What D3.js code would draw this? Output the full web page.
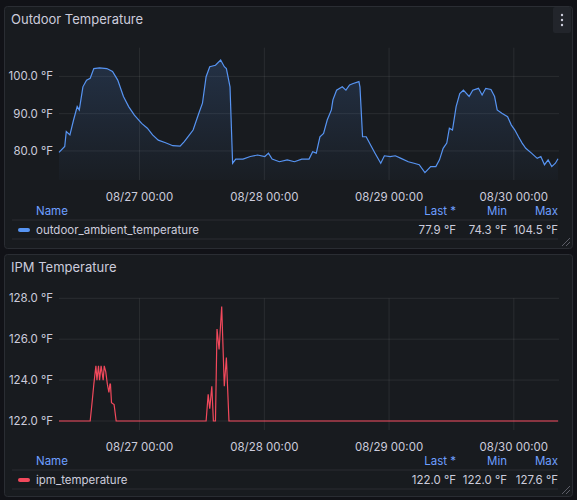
<!DOCTYPE html>
<html><head><meta charset="utf-8">
<script src="https://cdn.jsdelivr.net/npm/d3@7"></script>
<style>
body{margin:0;background:#111217;font-family:Inter,"Noto Sans",sans-serif;}
</style></head>
<body><svg id="chart" width="577" height="500"></svg>
<script>
// hours since 08/26 08:30
const outdoorHours = [0,1.1,1.4,2.1,2.8,3.5,3.9,4.6,5.3,6.0,6.7,7.8,9.2,10.3,11.3,12.4,13.4,14.5,15.9,17.0,18.0,19.1,20.5,21.9,23.3,24.1,24.8,25.8,26.9,27.6,28.3,29.0,30.1,31.1,31.8,32.2,32.9,33.4,34.0,35.4,36.8,38.2,39.6,40.3,41.0,42.4,43.9,45.3,46.7,48.1,48.8,49.5,50.2,50.9,51.6,52.4,52.7,53.4,54.5,55.2,55.9,56.6,57.7,57.9,58.4,59.1,60.1,60.8,61.9,62.6,63.7,64.7,65.8,67.2,68.3,69.3,70.4,71.5,72.5,73.2,73.9,74.6,75.1,75.7,76.4,77.1,77.8,78.9,79.6,80.7,81.4,82.1,83.1,83.8,84.3,85.2,86.3,87.0,87.7,88.4,89.1,89.8,90.9,92.0,92.7,93.4,94.1,94.8,95.5,96.0];
const outdoorValues = [79.6,81.2,85.2,84.3,88.3,91.9,91.0,97.2,99.0,99.5,102.1,102.3,102.1,101.3,99.0,94.6,91.9,89.6,87.4,86.1,84.3,82.9,82.2,81.4,81.3,82.5,83.8,85.6,90.1,92.8,99.9,102.6,103.0,104.4,102.6,102.1,97.2,76.7,77.8,77.8,78.5,78.9,78.5,79.4,77.8,77.1,77.6,77.1,77.8,77.8,79.8,79.4,83.8,84.7,88.3,91.0,93.7,96.3,97.2,96.3,97.7,98.1,98.6,97.2,83.8,83.8,81.2,79.4,76.7,78.7,78.5,78.7,78.0,77.1,76.7,76.3,74.2,75.8,75.8,77.6,80.7,82.1,86.1,85.6,91.9,95.4,96.3,94.6,96.3,96.8,95.0,96.8,96.5,94.6,91.0,90.1,89.2,87.0,85.6,83.8,82.1,80.7,79.4,78.0,78.5,76.3,77.6,75.8,76.7,77.9];
const ipmHours = [0,6.0,6.4,6.7,7.1,7.3,7.6,7.8,8.1,8.5,8.7,9.0,9.3,9.6,9.8,9.9,10.1,10.6,11.0,28.3,28.7,29.0,29.4,29.7,30.1,30.4,30.8,31.3,31.8,32.2,32.7,96.0];
const ipmValues = [122,122,123.0,123.8,124.7,124.0,124.7,124.0,124.7,124.0,124.7,124.4,123.8,123.4,123.8,123.8,122.9,122.8,122,122,123.3,122.6,123.7,122,122,126.5,125.5,127.6,123.7,125.1,122,122];
const outdoorTicks = [80,90,100];
const ipmTicks = [122,124,126,128];
const dayTicks = ["08/27 00:00","08/28 00:00","08/29 00:00","08/30 00:00"];

const start = new Date(2024,7,26,8,30);
const toDate = h => new Date(start.getTime() + h*3600e3);
const svg = d3.select("#chart");
const defs = svg.append("defs");
const g0 = defs.append("linearGradient").attr("id","fillBlue").attr("x1",0).attr("x2",0).attr("y1",0).attr("y2",1);
g0.append("stop").attr("offset","0%").attr("stop-color","#5794f2").attr("stop-opacity",0.18);
g0.append("stop").attr("offset","100%").attr("stop-color","#5794f2").attr("stop-opacity",0.02);

function panel(cfg){
  const p = svg.append("g");
  p.append("rect").attr("x",4.5).attr("y",cfg.top+0.5).attr("width",568).attr("height",cfg.h)
    .attr("rx",3).attr("fill","#181b1f").attr("stroke","#2a2d33");
  p.append("text").attr("x",11).attr("y",cfg.titleY).attr("fill","#ccccdc").attr("font-size",13).text(cfg.title);

  const x = d3.scaleTime().domain([toDate(0),toDate(96)]).range([59,558]);
  const y = d3.scaleLinear().domain(cfg.domain).range([cfg.y1,cfg.y0]);
  const gridTop = cfg.y0, gridBot = cfg.y1;
  dayTicks.forEach((t,i)=>{
    const xv = x(new Date(2024,7,27+i));
    p.append("line").attr("x1",xv).attr("x2",xv).attr("y1",gridTop).attr("y2",gridBot)
      .attr("stroke","#ffffff").attr("stroke-opacity",0.08);
    p.append("text").attr("x",xv).attr("y",gridBot+21).attr("text-anchor","middle")
      .attr("fill","#ccccdc").attr("font-size",11.5).text(t);
  });
  cfg.ticks.forEach(t=>{
    p.append("line").attr("x1",59).attr("x2",559).attr("y1",y(t)).attr("y2",y(t))
      .attr("stroke","#ffffff").attr("stroke-opacity",0.08);
    p.append("text").attr("x",53).attr("y",y(t)+4).attr("text-anchor","end")
      .attr("fill","#ccccdc").attr("font-size",11.5).text(t.toFixed(1)+" °F");
  });
  const pts = cfg.hours.map((h,i)=>[x(toDate(h)),y(cfg.values[i])]);
  if(cfg.fill){
    p.append("path").attr("d",d3.area().x(d=>d[0]).y0(gridBot).y1(d=>d[1])(pts)).attr("fill",cfg.fill);
  }
  p.append("path").attr("d",d3.line()(pts)).attr("fill","none").attr("stroke",cfg.color).attr("stroke-width",1.2);

  // legend
  const ly = gridBot+35;
  p.append("text").attr("x",36).attr("y",ly).attr("fill","#6e9fff").attr("font-size",11.5).text("Name");
  [["Last *",456],["Min",507],["Max",558]].forEach(([t,xx])=>
    p.append("text").attr("x",xx).attr("y",ly).attr("text-anchor","end").attr("fill","#6e9fff").attr("font-size",11.5).text(t));
  p.append("line").attr("x1",12).attr("x2",558).attr("y1",ly+5).attr("y2",ly+5).attr("stroke","#2a2d33");
  p.append("line").attr("x1",12).attr("x2",558).attr("y1",ly+24).attr("y2",ly+24).attr("stroke","#2a2d33");
  p.append("rect").attr("x",18).attr("y",ly+13).attr("width",12).attr("height",4).attr("rx",2).attr("fill",cfg.color);
  p.append("text").attr("x",36).attr("y",ly+19).attr("fill","#ccccdc").attr("font-size",11.5).text(cfg.name);
  cfg.stats.forEach((t,i)=>
    p.append("text").attr("x",[456,507,558][i]).attr("y",ly+19).attr("text-anchor","end").attr("fill","#ccccdc").attr("font-size",11.5).text(t));
  p.append("path").attr("d",`M566,${cfg.top+cfg.h-2} L570,${cfg.top+cfg.h-6} M562,${cfg.top+cfg.h-2} L570,${cfg.top+cfg.h-10}`)
    .attr("stroke","#6e6e7a").attr("stroke-width",0.8);
}

panel({top:6,h:242,titleY:24,title:"Outdoor Temperature",domain:[72.2,107.7],y0:47.7,y1:180,ticks:outdoorTicks,
  hours:outdoorHours,values:outdoorValues,color:"#5794f2",fill:"url(#fillBlue)",
  name:"outdoor_ambient_temperature",stats:["77.9 °F","74.3 °F","104.5 °F"]});
panel({top:254,h:242,titleY:272,title:"IPM Temperature",domain:[121.56,128],y0:298.3,y1:430,ticks:ipmTicks,
  hours:ipmHours,values:ipmValues,color:"#f2495c",fill:null,
  name:"ipm_temperature",stats:["122.0 °F","122.0 °F","127.6 °F"]});

// menu button
svg.append("rect").attr("x",553).attr("y",7).attr("width",18).attr("height",26).attr("rx",2).attr("fill","#22252b");
[15,20,25].forEach(cy=>svg.append("circle").attr("cx",562).attr("cy",cy).attr("r",1.2).attr("fill","#ccccdc"));
</script></body></html>
